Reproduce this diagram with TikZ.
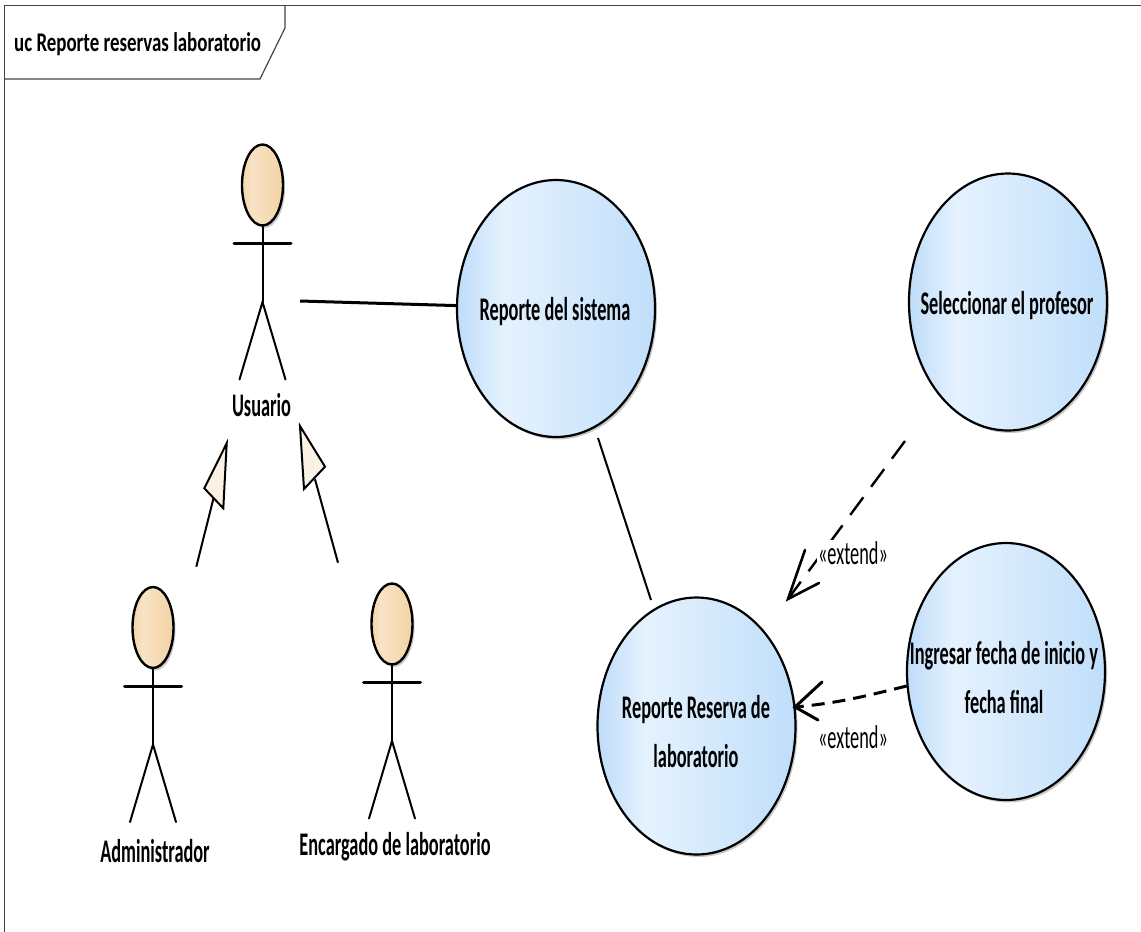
\documentclass[tikz,border=0pt]{standalone}
\usepackage{fontspec}
\setmainfont{Carlito}[FakeStretch=0.555]
\newfontfamily\titlefont{Carlito}[FakeStretch=0.70]
\usetikzlibrary{shapes.geometric,shadows}
\definecolor{framegray}{HTML}{444444}
\definecolor{genfill}{HTML}{FBF2E5}
\definecolor{ucdark}{HTML}{BEDCF9}
\definecolor{uclight}{HTML}{E5F2FE}
\definecolor{ucright}{HTML}{C0DEFA}
\definecolor{acdark}{HTML}{F3D6AA}
\definecolor{aclight}{HTML}{F8E3C6}
\definecolor{acright}{HTML}{F3D3A3}
\pgfdeclarehorizontalshading{ucshade}{100bp}{color(0bp)=(ucdark); color(25bp)=(ucdark); color(37bp)=(uclight); color(75bp)=(ucright); color(100bp)=(ucright)}
\pgfdeclarehorizontalshading{actorshade}{100bp}{color(0bp)=(acdark); color(25bp)=(acdark); color(37bp)=(aclight); color(75bp)=(acright); color(100bp)=(acright)}
\tikzset{
  x=1pt,y=-1pt,
  softshadow/.style={drop shadow={shadow xshift=2pt,shadow yshift=-2.5pt,opacity=.22,fill=black}},
  usecase/.style={ellipse,draw=black,line width=2.2pt,minimum width=198pt,minimum height=257pt,inner sep=0pt,
     shading=ucshade,softshadow},
  usetext/.style={align=center,inner sep=0pt,font=\fontsize{33}{49}\selectfont\bfseries},
  head/.style={ellipse,draw=black,line width=2.4pt,minimum width=41pt,minimum height=81pt,inner sep=0pt,shading=actorshade,softshadow},
  limb/.style={line width=2pt,line cap=round},
  arm/.style={line width=3pt,line cap=round},
  actorname/.style={font=\fontsize{33}{35}\selectfont\bfseries,inner sep=0pt},
  tagtext/.style={font=\fontsize{33}{35}\selectfont,inner sep=1pt,fill=white},
  assoc/.style={line width=2pt},
  gen/.style={line width=2pt},
  genhead/.style={line width=2pt,draw=black,fill=genfill,line join=miter},
  dep/.style={line width=2.4pt,dash pattern=on 22pt off 13pt},
  barb/.style={line width=2.6pt,line cap=round,line join=miter}
}
\newcommand{\actorfig}[3]{%
  \coordinate (#1armL) at (#2-28.5,#3+58.5);
  \coordinate (#1armR) at (#2+28.5,#3+58.5);
  \coordinate (#1hip) at (#2,#3+117);
  \coordinate (#1legL) at (#2-23,#3+194.5);
  \coordinate (#1legR) at (#2+23,#3+194.5);
  \node[head] (#1head) at (#2,#3) {};
  \draw[limb] (#1head) -- (#1hip);
  \draw[arm] (#1armL) -- (#1armR);
  \draw[limb] (#1legL) -- (#1hip) -- (#1legR);
}
\begin{document}
\begin{tikzpicture}
\useasboundingbox (0,0) rectangle (1141,932);
% frame
\coordinate (frameTL) at (4.5,5.5);
\coordinate (frameTR) at (1141,5.5);
\coordinate (frameBL) at (4.5,932);
\coordinate (tabA) at (285,5.5);
\coordinate (tabB) at (285,28);
\coordinate (tabC) at (260,79);
\coordinate (tabD) at (4.5,79);
\draw[framegray,line width=1.2pt] (frameBL) -- (frameTL) -- (frameTR);
\draw[framegray,line width=1.2pt] (tabA) -- (tabB) -- (tabC) -- (tabD);
\node[font=\fontsize{27}{30}\selectfont\titlefont\bfseries,anchor=west,inner sep=0pt] (title) at (14,44) {uc Reporte reservas laboratorio};
% actors
\actorfig{usr}{262.5}{185}
\actorfig{adm}{153}{627.5}
\actorfig{enc}{392}{624}
\node[actorname] (usrlabel) at (261.5,405) {Usuario};
\node[actorname] (admlabel) at (155,851) {Administrador};
\node[actorname] (enclabel) at (395,847) {Encargado de laboratorio};
% use cases
\node[usecase] (rs) at (556,308.5) {};
\node[usecase] (sel) at (1008,302) {};
\node[usecase] (rr) at (696.5,726) {};
\node[usecase] (ing) at (1006,671.5) {};
\node[usetext] (rstext) at (555,312) {Reporte del sistema};
\node[usetext] (seltext) at (1007,306) {Seleccionar el profesor};
\node[usetext] (rrtext) at (696,732) {Reporte Reserva de\\laboratorio};
\node[usetext] (ingtext) at (1004,678) {Ingresar fecha de inicio y\\fecha final};
% associations
\coordinate (usrside) at (300,301);
\coordinate (rsfoot) at (598,438);
\coordinate (rrtop) at (651,600);
\draw[assoc,line width=3pt] (usrside) -- (rs);
\draw[assoc] (rsfoot) -- (rrtop);
% generalisations
\coordinate (g1tip) at (226.7,443.3);
\coordinate (g1a) at (204.3,488.3);
\coordinate (g1b) at (223.3,508.3);
\coordinate (g1base) at (213.5,498.3);
\coordinate (g1end) at (196.3,566.7);
\draw[gen] (g1end) -- (g1base);
\draw[genhead] (g1tip) -- (g1a) -- (g1b) -- cycle;
\coordinate (g2tip) at (300,426);
\coordinate (g2a) at (325,466.7);
\coordinate (g2b) at (304,489);
\coordinate (g2base) at (315,479.3);
\coordinate (g2end) at (338,562.7);
\draw[gen] (g2end) -- (g2base);
\draw[genhead] (g2tip) -- (g2a) -- (g2b) -- cycle;
% extend 1
\coordinate (e1start) at (905,441);
\coordinate (e1tip) at (788,599);
\coordinate (e1u) at (805,550);
\coordinate (e1v) at (819,583);
\draw[dep] (e1start) -- (e1tip);
\draw[barb] (e1u) -- (e1tip) -- (e1v);
\node[tagtext] (e1label) at (853,553) {«extend»};
% extend 2
\coordinate (e2start) at (906.7,686);
\coordinate (e2tip) at (795,707);
\coordinate (e2u) at (822,682);
\coordinate (e2v) at (818,720);
\draw[dep,line width=3pt,dash pattern=on 13pt off 8pt] (e2start) .. controls (870,695) and (840,703) .. (e2tip);
\draw[barb,line width=3pt] (e2u) -- (e2tip) -- (e2v);
\node[tagtext] (e2label) at (853,737) {«extend»};
\end{tikzpicture}
\end{document}
